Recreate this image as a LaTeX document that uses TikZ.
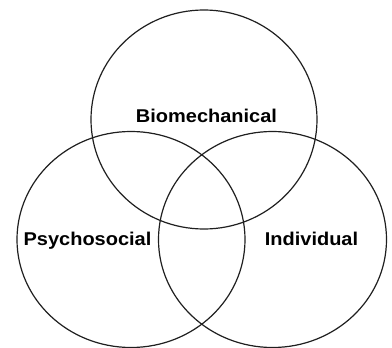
\documentclass[tikz,border=0pt]{standalone}
\usepackage{fontspec}
\setmainfont{Liberation Sans}
\usetikzlibrary{shapes.geometric}
\begin{document}
\begin{tikzpicture}[x=1pt,y=-1pt,
  venn/.style={ellipse, draw=black!88, line width=1.2pt, inner sep=0pt, minimum width=228pt, minimum height=216pt},
  lbl/.style={anchor=base, inner sep=0pt, font=\fontsize{18.5}{22}\selectfont\bfseries, xscale=1.08}]
\useasboundingbox (0,0) rectangle (392,348);
\node[venn, minimum width=226pt, minimum height=219pt] (bio) at (204,119.5) {};
\node[venn] (psy) at (131,239.5) {};
\node[venn] (ind) at (272.5,239.5) {};
\node[lbl] (biot) at (206.5,122) {Biomechanical};
\node[lbl] (psyt) at (87.5,245) {Psychosocial};
\node[lbl] (indt) at (311.5,245) {Individual};
\end{tikzpicture}
\end{document}
